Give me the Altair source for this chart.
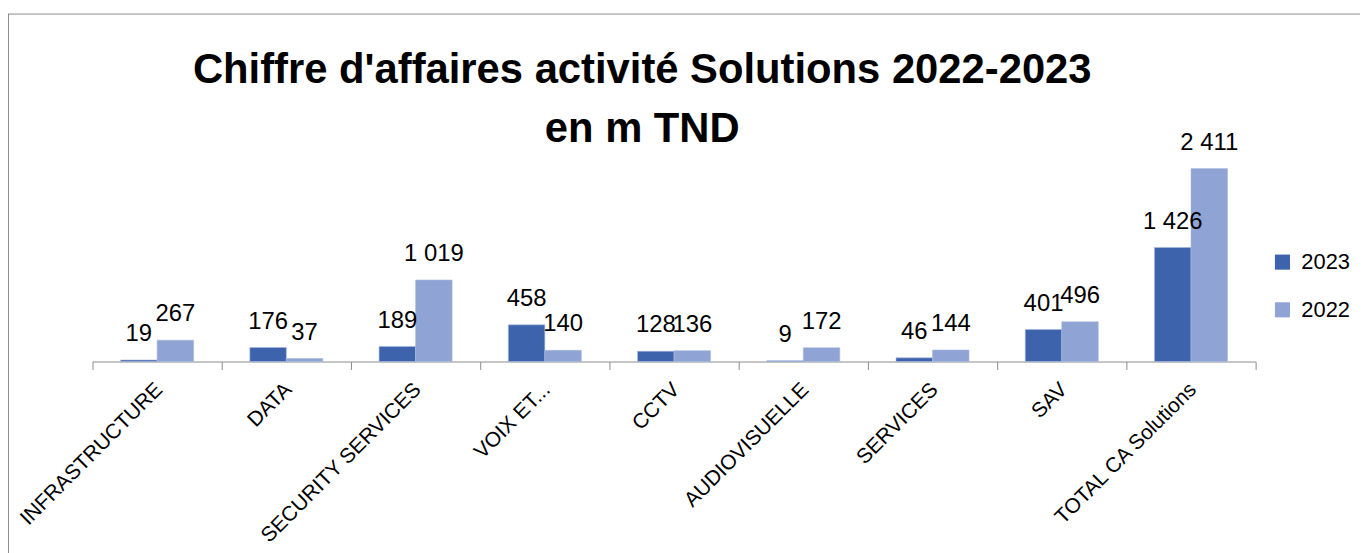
import altair as alt
import pandas as pd

categories = ["INFRASTRUCTURE", "DATA", "SECURITY SERVICES", "VOIX ET...", "CCTV",
              "AUDIOVISUELLE", "SERVICES", "SAV", "TOTAL CA Solutions"]
values_2023 = [19, 176, 189, 458, 128, 9, 46, 401, 1426]
values_2022 = [267, 37, 1019, 140, 136, 172, 144, 496, 2411]
series = ["2023", "2022"]
colors = ["#3C63AB", "#8FA4D4"]
title_lines = ["Chiffre d'affaires activité Solutions 2022-2023", "en m TND"]

rows = []
for c, a, b in zip(categories, values_2023, values_2022):
    for s, v in zip(series, (a, b)):
        rows.append({"cat": c, "year": s, "value": v,
                     "label": f"{v:,}".replace(",", " ")})
df = pd.DataFrame(rows)

FONT = "Liberation Sans"
W, H = 1170, 212
PL, PT, PR, PB = 85, 142, 105, 191

x = alt.X("cat:N", sort=categories, title=None,
          scale=alt.Scale(paddingInner=0, paddingOuter=0),
          axis=alt.Axis(labelAngle=-45, labelFontSize=21, labelFont=FONT,
                        labelColor="black", labelLimit=400, labelOverlap=False,
                        labelPadding=9, labelOffset=-6, tickBand="extent", tickSize=8,
                        tickColor="#8C8C8C", domainColor="#8C8C8C", grid=False))
xo = alt.XOffset("year:N", sort=series,
                 scale=alt.Scale(domain=series, paddingInner=0, paddingOuter=0.77))
y = alt.Y("value:Q", axis=None, scale=alt.Scale(domain=[0, 2634], nice=False, zero=True))

base = alt.Chart(df)
bars = base.mark_bar(stroke="#A9B9E0", strokeWidth=0.6).encode(
    x=x, xOffset=xo, y=y,
    color=alt.Color("year:N", sort=series,
                    scale=alt.Scale(domain=series, range=colors),
                    legend=alt.Legend(title=None, orient="none", legendX=1186, legendY=101,
                                      symbolType="square", symbolSize=230,
                                      symbolStrokeWidth=0, labelFontSize=22,
                                      labelFont=FONT, labelColor="black",
                                      rowPadding=26, labelOffset=8)),
)
texts = base.mark_text(fontSize=24, font=FONT, color="black", baseline="alphabetic",
                       dy=-19).encode(
    x=x, xOffset=xo, y=y, text="label:N")

one = pd.DataFrame({"k": [0]})
title = alt.Chart(one).mark_text(
    text=title_lines, fontSize=42, font=FONT, fontWeight="bold", color="black",
    align="center", baseline="alphabetic", lineHeight=59).encode(
    x=alt.value(553), y=alt.value(-68))
frame_v = alt.Chart(one).mark_rule(color="#8C8C8C", strokeWidth=1).encode(
    x=alt.value(-PL + 0.5), y=alt.value(-PT + 4), y2=alt.value(H + PB + 50))
frame_h = alt.Chart(one).mark_rule(color="#8C8C8C", strokeWidth=1).encode(
    x=alt.value(-PL + 0.5), x2=alt.value(W + PR + 50), y=alt.value(-PT + 4.5))

chart = alt.layer(bars, texts, title, frame_v, frame_h).properties(
    width=W, height=H,
    autosize=alt.AutoSizeParams(type="none"),
    padding={"left": PL, "top": PT, "right": PR, "bottom": PB},
).configure_view(stroke=None)

chart.save("out.html", embed_options={"renderer": "svg", "actions": False})
